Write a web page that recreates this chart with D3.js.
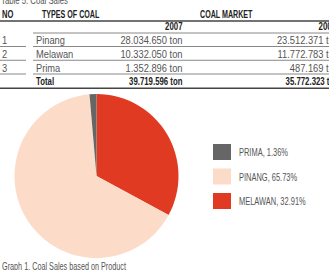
<!DOCTYPE html>
<meta charset="utf-8">
<html>
<head>
<style>
  body { margin: 0; background: #fff; overflow: hidden; }
  text { font-family: "Liberation Sans", Arial, sans-serif; }
</style>
</head>
<body>
<div id="viz"></div>
<script src="https://d3js.org/d3.v7.min.js"></script>
<script>

// table data
var rowNo = ["1", "2", "3"];
var coalTypes = ["Pinang", "Melawan", "Prima"];
var sales2007 = ["28.034.650 ton", "10.332.050 ton", "1.352.896 ton"];
var sales2008 = ["23.512.371 ton", "11.772.783 ton", "487.169 ton"];
var totals = ["39.719.596 ton", "35.772.323 ton"];
var years = ["2007", "2008"];

// pie data (share of sales)
var slices = ["MELAWAN", "PINANG", "PRIMA"];
var shares = [32.91, 65.73, 1.36];
var legendOrder = ["PRIMA", "PINANG", "MELAWAN"];

var width = 329, height = 270;

var svg = d3.select("#viz")
  .append("svg")
    .attr("width", width)
    .attr("height", height);

// condensed look: squeeze text horizontally around its anchor
function put(g, x, y, txt, size, sx, opts) {
  opts = opts || {};
  return g.append("text")
    .attr("transform", "translate(" + x + "," + y + ") scale(" + sx + ",1)")
    .attr("font-size", size + "px")
    .attr("font-weight", opts.bold ? "bold" : null)
    .attr("text-anchor", opts.anchor || "start")
    .attr("fill", opts.fill || "#555")
    .text(txt);
}

// ---- table ----
put(svg, 1, 4, "Table 5. Coal Sales", 10.5, 0.74);

var dark = "#222";
put(svg, 2, 18, "NO", 11.5, 0.66, {bold: true, fill: dark});
put(svg, 42, 18, "TYPES OF COAL", 11.5, 0.62, {bold: true, fill: dark});
put(svg, 200, 18, "COAL MARKET", 11.5, 0.62, {bold: true, fill: dark});

svg.append("line").attr("x1", 0).attr("x2", width).attr("y1", 21).attr("y2", 21)
  .attr("stroke", "#444").attr("stroke-width", 1.5);

// column anchors
var col2007 = 182.5, col2008 = 339;

put(svg, col2007, 30, years[0], 11.5, 0.68, {bold: true, fill: dark, anchor: "end"});
put(svg, col2008 - 3, 30, years[1], 11.5, 0.68, {bold: true, fill: dark, anchor: "end"});
svg.append("line").attr("x1", 33).attr("x2", width).attr("y1", 33).attr("y2", 33)
  .attr("stroke", "#888").attr("stroke-width", 1);

var y = d3.scaleBand().domain(d3.range(4)).range([34, 89]);

rowNo.forEach(function(d, i) {
  var g = svg.append("g").attr("transform", "translate(0," + (y(i) + 10) + ")");
  put(g, 2, 0, d, 11.5, 0.81);
  put(g, 36, 0, coalTypes[i], 11.5, 0.81);
  put(g, col2007, 0, sales2007[i], 11.5, 0.81, {anchor: "end"});
  put(g, col2008, 0, sales2008[i], 11.5, 0.81, {anchor: "end"});
  g.append("line").attr("x1", 0).attr("x2", 26).attr("y1", 2.5).attr("y2", 2.5)
    .attr("stroke", "#888");
  g.append("line").attr("x1", 33).attr("x2", width).attr("y1", 2.5).attr("y2", 2.5)
    .attr("stroke", "#888");
});

var tot = svg.append("g").attr("transform", "translate(0," + (y(3) + 10) + ")");
put(tot, 36, 0, "Total", 11.5, 0.68, {bold: true, fill: dark});
put(tot, col2007, 0, totals[0], 11.5, 0.68, {bold: true, fill: dark, anchor: "end"});
put(tot, col2008, 0, totals[1], 11.5, 0.68, {bold: true, fill: dark, anchor: "end"});
tot.append("line").attr("x1", 0).attr("x2", width).attr("y1", 3).attr("y2", 3)
  .attr("stroke", "#444").attr("stroke-width", 1.5);

// ---- pie ----
var color = d3.scaleOrdinal()
  .domain(["MELAWAN", "PINANG", "PRIMA"])
  .range(["#e03a22", "#fcdcc8", "#666666"]);

var pie = d3.pie().sort(null).value(function(d) { return d; });
var arc = d3.arc().innerRadius(0).outerRadius(82);

var pieG = svg.append("g").attr("transform", "translate(96.5,176)");
pieG.selectAll("path").data(pie(shares))
  .enter().append("path")
    .attr("d", arc)
    .attr("fill", function(d, i) { return color(slices[i]); });

// legend
var legY = d3.scalePoint().domain(legendOrder).range([152, 201]);
legendOrder.forEach(function(d) {
  var g = svg.append("g").attr("transform", "translate(213," + legY(d) + ")");
  g.append("rect").attr("x", 0).attr("y", -8).attr("width", 18).attr("height", 16)
    .attr("fill", color(d));
  put(g, 26, 4, d + ", " + shares[slices.indexOf(d)].toFixed(2) + "%", 11, 0.68);
});

put(svg, 2, 270, "Graph 1. Coal Sales based on Product", 10.5, 0.69);

</script>
</body>
</html>
